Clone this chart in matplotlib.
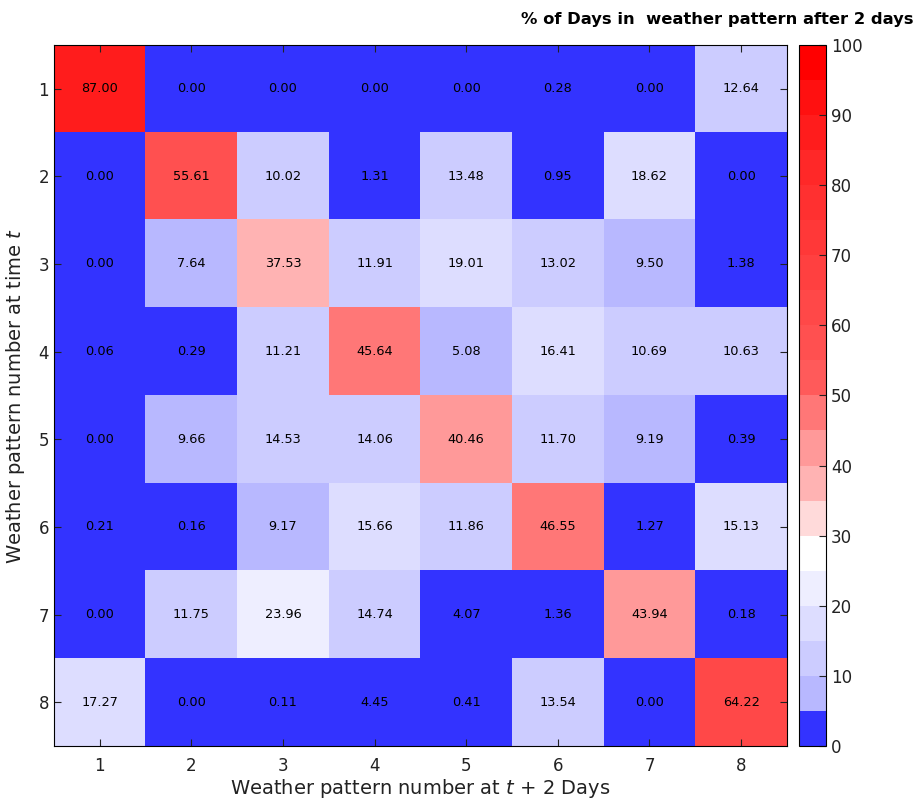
import numpy as np
import matplotlib
matplotlib.use("Agg")
import matplotlib.pyplot as plt
from matplotlib.colors import ListedColormap, Normalize

patterns = [1, 2, 3, 4, 5, 6, 7, 8]
values = [
    [87.00, 0.00, 0.00, 0.00, 0.00, 0.28, 0.00, 12.64],
    [0.00, 55.61, 10.02, 1.31, 13.48, 0.95, 18.62, 0.00],
    [0.00, 7.64, 37.53, 11.91, 19.01, 13.02, 9.50, 1.38],
    [0.06, 0.29, 11.21, 45.64, 5.08, 16.41, 10.69, 10.63],
    [0.00, 9.66, 14.53, 14.06, 40.46, 11.70, 9.19, 0.39],
    [0.21, 0.16, 9.17, 15.66, 11.86, 46.55, 1.27, 15.13],
    [0.00, 11.75, 23.96, 14.74, 4.07, 1.36, 43.94, 0.18],
    [17.27, 0.00, 0.11, 4.45, 0.41, 13.54, 0.00, 64.22],
]
level_colors = [
    "#3333FF", "#B8B8FF", "#CCCCFF", "#DDDDFF", "#EEEEFF", "#FFFFFF",
    "#FFDADA", "#FFB3B3", "#FF9999", "#FF7777",
    "#FF5A5A", "#FF5050", "#FF4848", "#FF4040", "#FF3838",
    "#FF3030", "#FF2828", "#FF1C1C", "#FF1010", "#FF0000",
]
cbar_ticks = list(range(0, 101, 10))

data = np.array(values)
cmap = ListedColormap(level_colors)
norm = Normalize(vmin=0, vmax=100)

fig = plt.figure(figsize=(9.15, 7.98), dpi=100)
ax = fig.add_axes([0.059, 0.065, 0.801, 0.879])
cax = fig.add_axes([0.873, 0.065, 0.030, 0.879])

im = ax.imshow(data, cmap=cmap, norm=norm, aspect="auto",
               extent=(0.5, 8.5, 8.5, 0.5), interpolation="nearest")
for i in range(data.shape[0]):
    for j in range(data.shape[1]):
        ax.text(patterns[j], patterns[i], f"{data[i, j]:.2f}",
                ha="center", va="center", fontsize=9.3, color="black")

ax.set_xticks(patterns)
ax.set_yticks(patterns)
ax.tick_params(direction="in", top=True, right=True, labelsize=12,
               length=5, colors="#222222")
ax.tick_params(axis="x", pad=8)
ax.set_xlabel("Weather pattern number at $t$ + 2 Days", fontsize=14,
              color="#222222", labelpad=1)
ax.set_ylabel("Weather pattern number at time $t$", fontsize=14,
              color="#222222", labelpad=8)

cb = fig.colorbar(im, cax=cax, ticks=cbar_ticks)
cb.minorticks_off()
cb.ax.tick_params(direction="in", labelsize=12, length=5, colors="#222222")
cb.outline.set_linewidth(0.8)

fig.text(0.998, 0.975, "% of Days in  weather pattern after 2 days",
         ha="right", va="center", fontsize=11.8, fontweight="bold")

fig.savefig("out.png", dpi=100)
